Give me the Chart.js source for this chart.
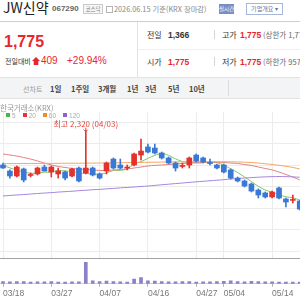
<!DOCTYPE html>
<html lang="ko"><head><meta charset="utf-8">
<script src="https://cdn.jsdelivr.net/npm/chart.js@4.4.1/dist/chart.umd.min.js"></script>
<style>
html,body{margin:0;padding:0;}
body{width:300px;height:300px;overflow:hidden;position:relative;background:#fff;font-family:"Liberation Sans","Noto Sans CJK KR",sans-serif;color:#333;}
.t{position:absolute;white-space:nowrap;}
.k{font-family:"Noto Sans CJK KR","Liberation Sans",sans-serif;}
.r{color:#e8262d;}
.ln{position:absolute;}
.sq{display:inline-block;width:4px;height:4px;margin-right:2px;vertical-align:middle;position:relative;top:-1px;}
canvas{position:absolute;left:0;}
</style></head><body>
<div class="t k" style="left:3px;top:-1px;font-size:14px;line-height:16px;color:#222;">JW신약</div>
<div class="t" style="left:52px;top:3px;font-size:8px;line-height:12px;font-weight:bold;color:#666;">067290</div>
<div class="t k" style="left:83px;top:4px;width:18px;height:8px;border:1px solid #c9c9c9;background:#f7f7f7;font-size:5.5px;line-height:8px;text-align:center;color:#777;">코스닥</div>
<div class="ln" style="left:106px;top:6px;width:5px;height:5px;border:1px solid #b5b5b5;"></div>
<div class="t k" style="left:114px;top:3px;font-size:7.3px;line-height:12px;color:#888;">2026.06.15 기준(KRX 장마감)</div>
<div class="t k" style="left:219px;top:4px;width:15px;height:10px;background:#7a8ec6;color:#fff;font-size:5.5px;line-height:10px;text-align:center;">실시간</div>
<div class="t k" style="left:246px;top:3px;width:35px;height:10px;border:1px solid #a7b6da;color:#5d70a8;font-size:6px;line-height:10px;text-align:center;">기업개요 ▾</div>
<div class="ln" style="left:0;top:21px;width:300px;height:1px;background:#cfcfcf;"></div>
<div class="ln" style="left:137px;top:22px;width:1px;height:55px;background:#e2e2e2;"></div>
<div class="ln" style="left:138px;top:49px;width:162px;height:1px;background:#f0f0f0;"></div>

<div class="t r" style="left:4px;top:34px;font-size:16px;line-height:16px;font-weight:bold;">1,775</div>
<div class="t k" style="left:5px;top:56px;font-size:7px;line-height:10px;color:#333;">전일대비</div>
<svg class="ln" style="left:32px;top:57px;" width="8" height="8" viewBox="0 0 8 8"><polygon points="4,0 8,4 6.3,4 6.3,8 1.7,8 1.7,4 0,4" fill="#e8262d"/></svg>
<div class="t r" style="left:41px;top:55px;font-size:10px;line-height:12px;">409</div>
<div class="t r" style="left:67px;top:55px;font-size:10px;line-height:12px;">+29.94%</div>

<div class="t k" style="left:147px;top:29px;font-size:8px;line-height:12px;">전일</div>
<div class="t" style="left:168px;top:29px;font-size:8.5px;line-height:12px;font-weight:bold;">1,366</div>
<div class="ln" style="left:214px;top:30px;width:1px;height:9px;background:#d5d5d5;"></div>
<div class="t k" style="left:222px;top:29px;font-size:8px;line-height:12px;">고가</div>
<div class="t r" style="left:240px;top:29px;font-size:8.5px;line-height:12px;font-weight:bold;">1,775</div>
<div class="t k" style="left:263px;top:29px;font-size:7.5px;line-height:12px;color:#666;">(상한가 1,775)</div>
<div class="t k" style="left:147px;top:56px;font-size:8px;line-height:12px;">시가</div>
<div class="t r" style="left:168px;top:56px;font-size:8.5px;line-height:12px;font-weight:bold;">1,775</div>
<div class="ln" style="left:214px;top:57px;width:1px;height:9px;background:#d5d5d5;"></div>
<div class="t k" style="left:222px;top:56px;font-size:8px;line-height:12px;">저가</div>
<div class="t r" style="left:240px;top:56px;font-size:8.5px;line-height:12px;font-weight:bold;">1,775</div>
<div class="t k" style="left:263px;top:56px;font-size:7.5px;line-height:12px;color:#666;">(하한가 957)</div>

<div class="ln" style="left:0;top:77px;width:300px;height:20px;background:#f3f4f6;border-top:1px solid #e3e3e3;border-bottom:1px solid #e3e3e3;"></div>
<div class="ln" style="left:228px;top:80px;width:1px;height:16px;background:#dcdcdc;"></div>
<div class="t k" style="left:23px;top:83px;font-size:7px;line-height:12px;color:#999;">선차트</div>
<div class="t k" style="left:50px;top:83px;font-size:7.5px;line-height:12px;font-weight:bold;color:#444;">1일</div>
<div class="t k" style="left:71px;top:83px;font-size:7.5px;line-height:12px;font-weight:bold;color:#444;">1주일</div>
<div class="t k" style="left:98px;top:83px;font-size:7.5px;line-height:12px;font-weight:bold;color:#444;">3개월</div>
<div class="t k" style="left:127px;top:83px;font-size:7.5px;line-height:12px;font-weight:bold;color:#444;">1년</div>
<div class="t k" style="left:145px;top:83px;font-size:7.5px;line-height:12px;font-weight:bold;color:#444;">3년</div>
<div class="t k" style="left:168px;top:83px;font-size:7.5px;line-height:12px;font-weight:bold;color:#444;">5년</div>
<div class="t k" style="left:189px;top:83px;font-size:7.5px;line-height:12px;font-weight:bold;color:#444;">10년</div>

<canvas id="price" width="300" height="146" style="top:112px;"></canvas>
<div class="ln" style="left:0;top:258px;width:300px;height:1px;background:#a3a3a3;"></div>
<canvas id="vol" width="300" height="42" style="top:259px;"></canvas>

<div class="t k" style="left:0px;top:102px;font-size:7.5px;line-height:12px;color:#999;">한국거래소(KRX)</div>
<div class="t" style="left:6px;top:111px;font-size:6.5px;line-height:10px;color:#aaa;">
<span class="sq" style="background:#4db34a;"></span>5<span style="display:inline-block;width:7px"></span><span class="sq" style="background:#e7313f;"></span>20<span style="display:inline-block;width:7px"></span><span class="sq" style="background:#f28c24;"></span>60<span style="display:inline-block;width:7px"></span><span class="sq" style="background:#8d63c9;"></span>120</div>

<script>
const dates = ['03/18','03/19','03/20','03/23','03/24','03/25','03/26','03/27','03/30','03/31','04/01','04/02','04/03','04/06','04/07','04/08','04/09','04/10','04/13','04/14','04/15','04/16','04/17','04/20','04/21','04/22','04/23','04/24','04/27','04/28','04/29','04/30','05/04','05/06','05/07','05/08','05/11','05/12','05/13','05/14','05/15','05/18','05/19','05/20'];
const opens  = [2002,1946,1900,1965,1905,1919,1983,1937,1919,1937,1900,1974,1928,1974,1919,1946,2057,2002,1974,2002,2094,2169,2159,2113,2067,2020,1988,2002,2094,2067,2025,2002,2002,1956,1881,1854,1826,1770,1743,1706,1789,1687,1674,1669];
const highs  = [2020,1956,1993,1974,1928,1983,2002,1993,1974,1946,1974,1983,2320,1983,1928,2030,2067,2057,2002,2113,2243,2196,2196,2122,2076,2030,2020,2076,2104,2076,2057,2011,2011,1965,1891,1863,1835,1780,1752,1761,1798,1696,1724,1678];
const lows   = [1970,1881,1891,1845,1891,1909,1946,1891,1881,1863,1891,1845,1919,1900,1872,1919,1965,1965,1956,1993,2048,2113,2104,2057,2011,1946,1974,1974,2030,2020,2002,1965,1928,1872,1845,1798,1752,1696,1696,1696,1687,1613,1650,1585];
const closes = [1974,1900,1983,1863,1912,1974,1946,1983,1946,1881,1965,1854,1974,1909,1881,2020,1974,1974,1983,2104,2131,2122,2113,2067,2020,1974,1998,2067,2039,2030,2015,1974,1937,1881,1854,1807,1761,1724,1706,1752,1696,1659,1682,1594];
const ma5   = [2000,1975,1955,1935,1926,1926,1936,1936,1952,1946,1944,1926,1924,1917,1917,1928,1952,1952,1966,2011,2033,2063,2091,2107,2091,2059,2034,2025,2020,2022,2030,2025,1999,1967,1932,1891,1848,1805,1770,1750,1728,1707,1699,1677];
const ma20  = [2104,2094,2085,2071,2057,2039,2020,2002,1988,1979,1970,1965,1960,1956,1951,1951,1956,1960,1965,1974,1983,1993,1998,2002,2006,2011,2016,2020,2025,2027,2028,2027,2025,2020,2016,2006,1998,1983,1970,1956,1937,1914,1891,1863];
const ma60  = [2015,2015,2015,2016,2016,2016,2017,2017,2017,2018,2018,2018,2019,2019,2020,2021,2022,2023,2024,2025,2026,2027,2028,2029,2030,2030,2031,2031,2032,2032,2032,2032,2032,2031,2030,2028,2025,2020,2013,2007,1999,1990,1979,1965];
const ma120 = [1715,1720,1724,1728,1733,1738,1742,1746,1751,1755,1759,1764,1768,1773,1776,1781,1785,1790,1794,1798,1803,1807,1813,1819,1824,1830,1835,1841,1846,1851,1856,1861,1866,1872,1877,1881,1885,1889,1892,1894,1895,1894,1892,1888];
const volumes = [250,220,260,240,200,230,210,250,180,200,210,230,2400,320,240,300,260,230,200,520,700,330,300,250,220,230,260,240,200,210,220,240,290,320,250,230,270,240,230,210,200,200,190,200];
const tickDates = ['03/18','03/27','04/07','04/16','04/27','05/04','05/14'];
const gridPrices = [1200,1400,1600,1800,2000,2200,2400];

const UP = '#e3322c', DOWN = '#3a78d6';
const candleColors = closes.map((c, i) => c >= opens[i] ? UP : DOWN);
const tickIdx = tickDates.map(d => dates.indexOf(d));
const X_MIN = -0.435, X_MAX = 43.04;
const Y_MIN = 1140.7, Y_MAX = 2492.6;
const VOL_MAX = 2781;

const pts = arr => arr.map((v, i) => ({x: i, y: v}));
const lineDs = (arr, color) => ({type: 'line', data: pts(arr), borderColor: color, borderWidth: 1, pointRadius: 0, tension: 0.3, order: 2});

const peakPlugin = {
  id: 'peak',
  afterDatasetsDraw(chart) {
    const idx = highs.indexOf(Math.max(...highs));
    const x = chart.scales.x.getPixelForValue(idx);
    const y = chart.scales.y.getPixelForValue(highs[idx]);
    const ctx = chart.ctx;
    ctx.save();
    ctx.strokeStyle = '#e0453d';
    ctx.fillStyle = '#e0453d';
    ctx.lineWidth = 1;
    ctx.beginPath(); ctx.moveTo(x, y - 3); ctx.lineTo(x, y + 1); ctx.stroke();
    ctx.beginPath(); ctx.moveTo(x - 2, y - 1); ctx.lineTo(x, y + 1); ctx.lineTo(x + 2, y - 1); ctx.stroke();
    ctx.font = '8px "Noto Sans CJK KR", sans-serif';
    ctx.textAlign = 'center';
    ctx.textBaseline = 'middle';
    ctx.fillText('최고 ' + highs[idx].toLocaleString('en-US') + ' (' + dates[idx] + ')', x, y - 6.5);
    ctx.restore();
  }
};

const common = {
  responsive: false, animation: false, events: [],
  plugins: {legend: {display: false}, tooltip: {enabled: false}},
  layout: {padding: 0}
};

new Chart(document.getElementById('price'), {
  type: 'bar',
  data: {datasets: [
    lineDs(ma120, '#a584dd'),
    lineDs(ma60, '#f4a55e'),
    lineDs(ma20, '#e57f7f'),
    lineDs(ma5, '#80c563'),
    {type: 'bar', data: lows.map((l, i) => ({x: i, y: [l, highs[i]]})), backgroundColor: candleColors, barThickness: 1, grouped: false, order: 1},
    {type: 'bar', data: opens.map((o, i) => ({x: i, y: [o, closes[i]]})), backgroundColor: candleColors, barThickness: 5, minBarLength: 1, grouped: false, order: 0}
  ]},
  options: Object.assign({}, common, {
    scales: {
      x: {type: 'linear', min: X_MIN, max: X_MAX, offset: false,
          afterBuildTicks: s => { s.ticks = tickIdx.map(v => ({value: v})); },
          ticks: {display: false}, grid: {color: '#ececec', drawTicks: false, offset: false}, border: {display: false}},
      y: {type: 'linear', min: Y_MIN, max: Y_MAX, beginAtZero: false,
          afterBuildTicks: s => { s.ticks = gridPrices.map(v => ({value: v})); },
          ticks: {display: false}, grid: {color: '#ececec', drawTicks: false}, border: {display: false}}
    }
  }),
  plugins: [peakPlugin]
});

new Chart(document.getElementById('vol'), {
  type: 'bar',
  data: {datasets: [
    {data: pts(volumes), backgroundColor: '#8e80c8', barThickness: 3, grouped: false}
  ]},
  options: Object.assign({}, common, {
    scales: {
      x: {type: 'linear', min: X_MIN, max: X_MAX, offset: false,
          afterBuildTicks: s => { s.ticks = tickIdx.map(v => ({value: v})); },
          ticks: {display: true, align: 'start', autoSkip: false, maxRotation: 0, minRotation: 0, padding: 2,
                  color: '#777', font: {size: 8.5, family: '"Liberation Sans", sans-serif'},
                  callback: v => dates[v]},
          grid: {display: true, drawOnChartArea: false, drawTicks: true, tickLength: 3, color: '#b5b5b5', offset: false},
          border: {display: true, color: '#d0d0d0'}},
      y: {display: false, min: 0, max: VOL_MAX, beginAtZero: true}
    }
  })
});
</script>
</body></html>
